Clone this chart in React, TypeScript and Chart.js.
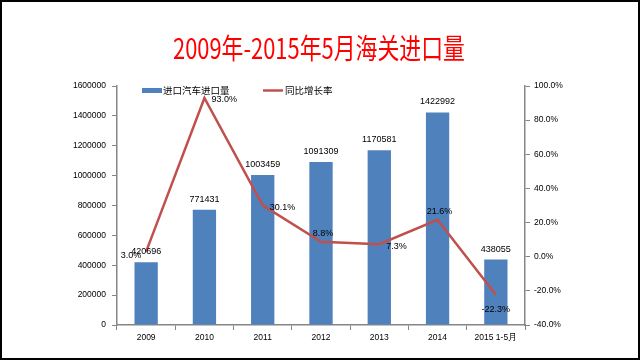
import React, { useEffect, useRef } from "react";
import { Chart, registerables } from "chart.js";

Chart.register(...registerables);

const titleText = "2009年-2015年5月海关进口量";
const categories = ["2009", "2010", "2011", "2012", "2013", "2014", "2015 1-5月"];
const importVolume = [420696, 771431, 1003459, 1091309, 1170581, 1422992, 438055];
const growthRate = [3.0, 93.0, 30.1, 8.8, 7.3, 21.6, -22.3];
const growthLabelPos = ["left", "right", "right", "top", "right", "top", "bottom"];
const seriesNames = ["进口汽车进口量", "同比增长率"];
const leftAxisRange = [0, 1600000, 200000];
const rightAxisRange = [-40, 100, 20];

const BAR_COLOR = "#4F81BD";
const LINE_COLOR = "#C0504D";
const AXIS_COLOR = "#868686";
const NUM_FONT = '"Liberation Sans", Arial, sans-serif';
const CJK_FONT = '"Noto Sans CJK SC", sans-serif';

const decorPlugin = {
  id: "decor",
  beforeDraw(chart: any) {
    const ctx = chart.ctx;
    ctx.save();
    ctx.fillStyle = "#fff";
    ctx.fillRect(0, 0, chart.width, chart.height);
    ctx.restore();
  },
  afterDraw(chart: any) {
    const ctx = chart.ctx;
    ctx.save();
    // bar labels
    const barMeta = chart.getDatasetMeta(0);
    ctx.font = `9px ${NUM_FONT}`;
    ctx.fillStyle = "#000";
    ctx.textAlign = "center";
    ctx.textBaseline = "middle";
    barMeta.data.forEach((el: any, i: number) => {
      ctx.fillText(String(importVolume[i]), el.x, el.y - 10.5);
    });
    // line labels
    const lineMeta = chart.getDatasetMeta(1);
    lineMeta.data.forEach((el: any, i: number) => {
      const txt = growthRate[i].toFixed(1) + "%";
      const pos = growthLabelPos[i];
      let x = el.x, y = el.y;
      if (pos === "left") { ctx.textAlign = "right"; x -= 5; y += 4; }
      else if (pos === "right") { ctx.textAlign = "left"; x += 7; y += 2; }
      else if (pos === "top") { ctx.textAlign = "center"; x += 2; y -= 8; }
      else { ctx.textAlign = "center"; y += 15; }
      ctx.fillText(txt, x, y);
    });
    // legend
    ctx.fillStyle = BAR_COLOR;
    ctx.fillRect(142, 88, 20, 5);
    ctx.strokeStyle = LINE_COLOR;
    ctx.lineWidth = 2.5;
    ctx.beginPath();
    ctx.moveTo(263, 90.5);
    ctx.lineTo(283, 90.5);
    ctx.stroke();
    ctx.fillStyle = "#000";
    ctx.font = `9.5px ${CJK_FONT}`;
    ctx.textAlign = "left";
    ctx.textBaseline = "middle";
    ctx.fillText(seriesNames[0], 163, 90.5);
    ctx.fillText(seriesNames[1], 285, 90.5);
    // title
    ctx.font = `28px ${CJK_FONT}`;
    const w = ctx.measureText(titleText).width;
    const sx = 292 / w;
    ctx.save();
    ctx.translate(319, 48);
    ctx.scale(sx, 1);
    ctx.fillStyle = "#FF0000";
    ctx.textAlign = "center";
    ctx.textBaseline = "middle";
    ctx.fillText(titleText, 0, 0);
    ctx.restore();
    // frame
    ctx.strokeStyle = "#000";
    ctx.lineWidth = 2;
    ctx.strokeRect(1, 1, chart.width - 2, chart.height - 2);
    ctx.restore();
  },
};

export default function App() {
  const ref = useRef<HTMLCanvasElement>(null);
  useEffect(() => {
    if (!ref.current) return;
    const tickFont = { family: NUM_FONT, size: 8.5 };
    const chart = new Chart(ref.current, {
      data: {
        labels: categories,
        datasets: [
          {
            type: "bar",
            label: seriesNames[0],
            data: importVolume,
            backgroundColor: BAR_COLOR,
            yAxisID: "y",
            barPercentage: 0.4,
            categoryPercentage: 1,
            order: 1,
          },
          {
            type: "line",
            label: seriesNames[1],
            data: growthRate,
            borderColor: LINE_COLOR,
            borderWidth: 2.5,
            pointRadius: 0,
            tension: 0,
            yAxisID: "y1",
            order: 0,
          },
        ],
      } as any,
      options: {
        animation: false,
        responsive: false,
        maintainAspectRatio: false,
        layout: { padding: { top: 86, left: 0, right: 0, bottom: 0 } },
        plugins: { legend: { display: false }, tooltip: { enabled: false }, title: { display: false } },
        scales: {
          x: {
            offset: true,
            grid: { display: true, drawOnChartArea: false, offset: true, tickLength: 5, color: AXIS_COLOR, lineWidth: 1 },
            border: { display: true, color: AXIS_COLOR, width: 1.5 },
            ticks: { font: tickFont, color: "#000", padding: 3, maxRotation: 0, autoSkip: false },
            afterFit: (s: any) => { s.height = 35; },
          },
          y: {
            position: "left",
            min: leftAxisRange[0],
            max: leftAxisRange[1],
            grid: { display: true, drawOnChartArea: false, tickLength: 5, color: AXIS_COLOR, lineWidth: 1 },
            border: { display: true, color: AXIS_COLOR, width: 1.5 },
            ticks: { stepSize: leftAxisRange[2], font: tickFont, color: "#000", padding: 6, callback: (v: any) => String(v) },
            afterFit: (s: any) => { s.width = 117; },
          },
          y1: {
            position: "right",
            min: rightAxisRange[0],
            max: rightAxisRange[1],
            grid: { display: true, drawOnChartArea: false, tickLength: 5, color: AXIS_COLOR, lineWidth: 1 },
            border: { display: true, color: AXIS_COLOR, width: 1.5 },
            ticks: { stepSize: rightAxisRange[2], font: tickFont, color: "#000", padding: 4, callback: (v: any) => Number(v).toFixed(1) + "%" },
            afterFit: (s: any) => { s.width = 115; },
          },
        },
      } as any,
      plugins: [decorPlugin],
    });
    return () => chart.destroy();
  }, []);
  return (
    <div style={{ position: "absolute", left: 0, top: 0, width: 640, height: 360 }}>
      <canvas ref={ref} width={640} height={360} style={{ width: 640, height: 360, display: "block" }} />
    </div>
  );
}
